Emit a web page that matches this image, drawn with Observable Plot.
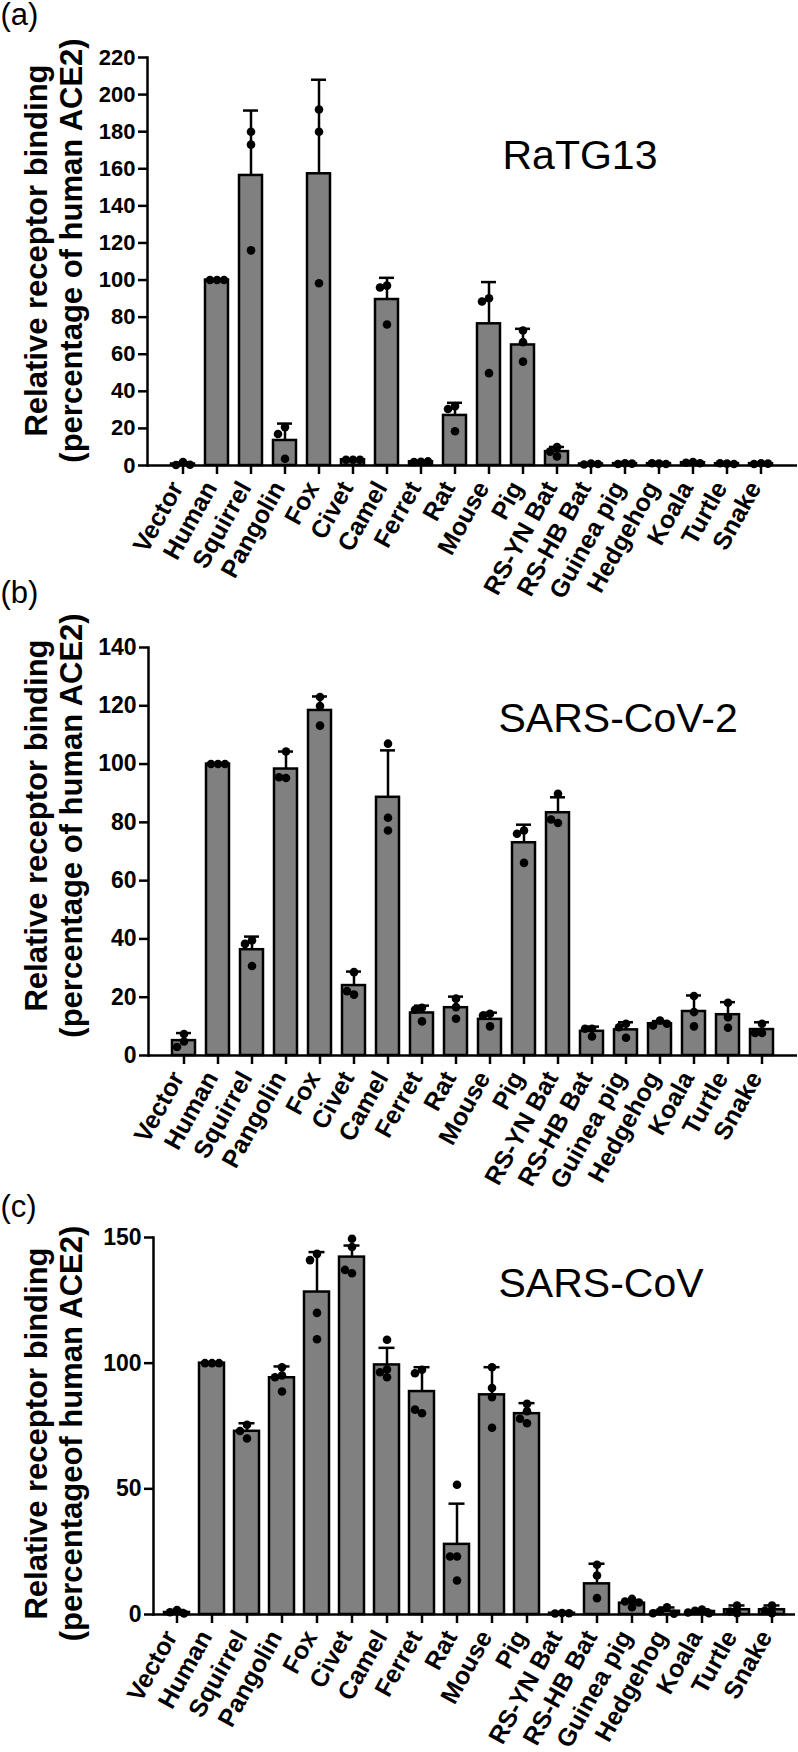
<!DOCTYPE html>
<html>
<head>
<meta charset="utf-8">
<script src="https://cdn.jsdelivr.net/npm/d3@7"></script>
<script src="https://cdn.jsdelivr.net/npm/@observablehq/plot@0.6"></script>
<style>
  body { margin: 0; background: #fff; }
  #chart { width: 798px; }
  #chart svg { display: block; overflow: visible; }
</style>
</head>
<body>
<div id="chart"></div>
<script>
// ---------- data ----------
const categories = ["Vector", "Human", "Squirrel", "Pangolin", "Fox", "Civet", "Camel", "Ferret", "Rat", "Mouse", "Pig", "RS-YN Bat", "RS-HB Bat", "Guinea pig", "Hedgehog", "Koala", "Turtle", "Snake"];

// (a) RaTG13
const ratg13Mean = [0.8, 100, 156.4, 13.5, 157.3, 3.1, 89.5, 2.0, 27.0, 76.4, 65.0, 7.5, 0.8, 1.0, 1.0, 1.5, 1.0, 1.0];
const ratg13Sd   = [0.8, 0, 35.0, 9.1, 50.7, 0.1, 11.7, 0.4, 6.8, 22.5, 8.7, 2.5, 0.3, 0.3, 0.3, 0.4, 0.3, 0.3];
const ratg13Dots = [[1.8, 0.3, 0.4], [100, 100, 100], [180, 173, 116], [20.7, 17, 3.6], [192, 180, 98.3], [3.1, 3.1, 3.1], [97, 96, 76], [2.0, 1.8, 2.2], [32, 30.5, 18.5], [90.2, 88.4, 49.8], [72.8, 66.5, 56], [9.9, 7.5, 4.9], [1.0, 0.5, 0.8], [1.2, 0.8, 1.0], [1.0, 1.2, 0.8], [1.8, 1.5, 1.2], [1.0, 1.2, 0.8], [1.2, 0.8, 1.0]];

// (b) SARS-CoV-2
const cov2Mean = [5.1, 100, 36.3, 98.3, 118.4, 24.0, 88.6, 14.6, 16.4, 12.4, 73.0, 83.3, 8.3, 8.8, 10.9, 15.1, 14.0, 8.9];
const cov2Sd   = [2.6, 0, 4.5, 6.0, 4.8, 4.8, 16.1, 2.5, 3.8, 2.3, 6.2, 5.3, 1.6, 2.6, 0.9, 5.5, 4.3, 2.5];
const cov2Dots = [[7.4, 4.8, 2.9], [100, 100, 100], [39.5, 38.3, 30.7], [104.3, 95.2, 95.5], [123, 119.9, 113.2], [28.6, 20.9, 22.1], [107, 81.6, 77.2], [16.4, 15.7, 11.7], [19.5, 16.6, 12.6], [14.3, 13.7, 10.0], [77.2, 76.1, 66.1], [89.8, 79.8, 81.0], [9.2, 9.2, 6.5], [10.9, 9.7, 6.1], [12.0, 10.3, 10.9], [20.4, 14.9, 10.0], [18.1, 13.1, 9.5], [10.9, 7.7, 7.7]];

// (c) SARS-CoV
const covMean = [0.8, 100, 72.9, 94.2, 128.3, 142.2, 99.3, 88.7, 27.9, 87.4, 79.9, 0.5, 12.2, 4.5, 1.3, 1.2, 1.9, 1.9];
const covSd   = [1.0, 0, 3.2, 4.5, 15.9, 4.6, 6.8, 9.7, 16.2, 11.0, 4.2, 0.2, 8.0, 1.2, 1.5, 0.9, 1.7, 1.7];
const covDots = [[1.8, 0.9, 0.4], [100, 100, 100], [75.5, 73, 70], [98.4, 95.1, 94.4, 88.7], [143.5, 141, 120, 109.5], [149.5, 146.2, 135.8, 137.1], [109.3, 97.5, 96.4, 94.4], [97.4, 96, 80.1, 81.5], [51.6, 23.1, 23.1, 13.5], [98.4, 90.1, 86.5, 74.3], [83.8, 80.9, 76.1, 77.9], [0.6, 0.4, 0.5], [19.8, 15.5, 6.5], [6.2, 5.2, 4.8, 2.9], [2.9, 1.3, 0.3, 0.5], [2.0, 1.5, 0.5, 0.8], [3.6, 1.2, 0.5], [3.6, 1.5, 0.5]];

const ticksA = [0, 20, 40, 60, 80, 100, 120, 140, 160, 180, 200, 220];
const ticksB = [0, 20, 40, 60, 80, 100, 120, 140];
const ticksC = [0, 50, 100, 150];

// ---------- drawing ----------
const FONT = "'Liberation Sans', Arial, Helvetica, sans-serif";

function makePanel(o) {
  const rows = categories.map((c, i) => ({cat: c, mean: o.mean[i], top: o.mean[i] + o.sd[i]}));
  const frameH = o.height - o.marginTop - o.marginBottom;
  const pxPerUnit = frameH / o.yMax;
  // simple beeswarm: pick a horizontal slot so that dots don't overlap
  const r = 4.3, step = 7;
  const slots = [0, -step, step, -2 * step, 2 * step];
  const pts = [];
  categories.forEach((c, i) => {
    const placed = [];
    o.dots[i].forEach(v => {
      const y = v * pxPerUnit;
      let s = slots.find(s => placed.every(p => Math.hypot(p.s - s, p.y - y) >= 6.9));
      if (s === undefined) s = 0;
      placed.push({s, y});
      pts.push({cat: c, v, s});
    });
  });
  const dotMarks = slots.map(s => Plot.dot(pts.filter(p => p.s === s), {x: "cat", y: "v", r, fill: "black", stroke: "none", dx: s}));
  const mid = o.marginTop + frameH / 2;

  return Plot.plot({
    width: 798,
    height: o.height,
    marginTop: o.marginTop,
    marginBottom: o.marginBottom,
    marginLeft: o.marginLeft,
    marginRight: o.marginRight,
    style: {fontFamily: FONT, fontWeight: "bold", color: "black", background: "transparent", overflow: "visible"},
    x: {domain: categories, paddingInner: o.paddingInner, paddingOuter: o.paddingOuter, label: null},
    y: {domain: [0, o.yMax], label: null},
    marks: [
      Plot.barY(rows, {x: "cat", y: "mean", fill: "#808080", stroke: "black", strokeWidth: 2.5}),
      Plot.ruleX(rows, {x: "cat", y1: "mean", y2: "top", stroke: "black", strokeWidth: 2.5}),
      Plot.tickY(rows.filter(d => d.top > d.mean), {x: "cat", y: "top", stroke: "black", strokeWidth: 2.5, insetLeft: o.capInset, insetRight: o.capInset}),
      ...dotMarks,
      Plot.ruleY([0], {stroke: "black", strokeWidth: 2.5}),
      Plot.frame({anchor: "left", stroke: "black", strokeWidth: 2.5}),
      Plot.axisY({ticks: o.yTicks, tickSize: 9, tickPadding: 3, strokeWidth: 2.5, fontSize: o.yFont, fontWeight: "bold", tickFormat: d => String(d), label: null}),
      // x tick marks
      Plot.axisX({tickSize: 9, strokeWidth: 2.5, tickFormat: () => "", label: null}),
      // x tick labels (rotated)
      Plot.axisX({tickSize: 0, tickPadding: 22, dx: 1, tickRotate: -61, textAnchor: "end", lineAnchor: "bottom", fontSize: 25, fontWeight: "bold", label: null}),
      Plot.text([o.yTitle], {frameAnchor: "left", rotate: -90, dx: 53 - o.marginLeft, dy: o.yTitleCenter - mid, fontSize: 31, fontWeight: "bold", lineHeight: 1.13, textAnchor: "middle", lineAnchor: "middle"}),
      Plot.text([o.title], {frameAnchor: "top-left", dx: o.titleX - o.marginLeft, dy: o.titleBase - o.marginTop, fontSize: 41, fontWeight: "normal", textAnchor: "start", lineAnchor: "bottom"}),
      Plot.text([o.tag], {frameAnchor: "top-left", dx: -o.marginLeft, dy: o.tagBase - o.marginTop, fontSize: 31, fontWeight: "normal", textAnchor: "start", lineAnchor: "bottom"})
    ]
  });
}

const chart = document.getElementById("chart");

chart.append(makePanel({
  tag: "(a)", title: "RaTG13",
  mean: ratg13Mean, sd: ratg13Sd, dots: ratg13Dots,
  yMax: 220, yTicks: ticksA, yFont: 22,
  height: 590, marginTop: 57, marginBottom: 125, marginLeft: 147, marginRight: 1,
  paddingInner: 0.31, paddingOuter: 0.535, capInset: 4,
  yTitle: "Relative receptor binding\n(percentage of human ACE2)", yTitleCenter: 250,
  titleX: 502, titleBase: 168, tagBase: 24
}));

chart.append(makePanel({
  tag: "(b)", title: "SARS-CoV-2",
  mean: cov2Mean, sd: cov2Sd, dots: cov2Dots,
  yMax: 140, yTicks: ticksB, yFont: 23,
  height: 590, marginTop: 57, marginBottom: 125, marginLeft: 148, marginRight: 1,
  paddingInner: 0.31, paddingOuter: 0.52, capInset: 4,
  yTitle: "Relative receptor binding\n(percentage of human ACE2)", yTitleCenter: 235,
  titleX: 498, titleBase: 141, tagBase: 12
}));

chart.append(makePanel({
  tag: "(c)", title: "SARS-CoV",
  mean: covMean, sd: covSd, dots: covDots,
  yMax: 150, yTicks: ticksC, yFont: 23,
  height: 572, marginTop: 57, marginBottom: 138, marginLeft: 153, marginRight: 3,
  paddingInner: 0.30, paddingOuter: 0.17, capInset: 4.5,
  yTitle: "Relative receptor binding\n(percentageof human ACE2)", yTitleCenter: 253,
  titleX: 498, titleBase: 116, tagBase: 36
}));
</script>
</body>
</html>
